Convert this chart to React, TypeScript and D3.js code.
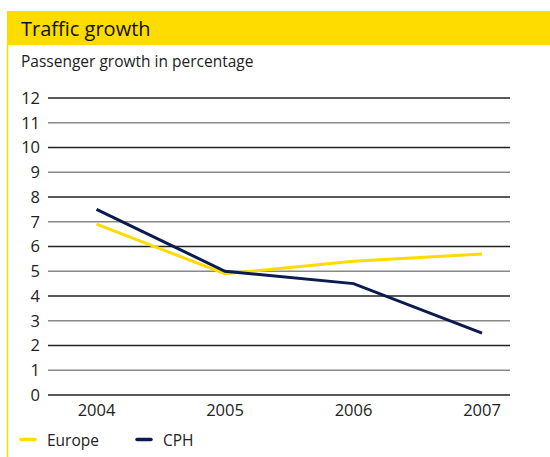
import React from "react";
import * as d3 from "d3";

const years = ["2004", "2005", "2006", "2007"];
const europe = [6.9, 4.9, 5.4, 5.7];
const cph = [7.5, 5.0, 4.5, 2.5];
const yTicks = [0, 1, 2, 3, 4, 5, 6, 7, 8, 9, 10, 11, 12];
const seriesNames = ["Europe", "CPH"];

const YELLOW = "#FFDC00";
const NAVY = "#0B1A4F";

export default function App() {
  const W = 550, H = 457;
  const y = d3.scaleLinear().domain([0, 12]).range([395, 98]);
  const x = d3.scalePoint<string>().domain(years).range([96.5, 482]);
  const line = d3.line<number>().x((_, i) => x(years[i])!).y(d => y(d));
  const font = "'Open Sans', 'Noto Sans', sans-serif";
  return (
    <svg width={W} height={H} style={{ position: "absolute", left: 0, top: 0 }} fontFamily={font}>
      <rect x={0} y={0} width={W} height={H} fill="#fff" />
      <rect x={7} y={11} width={543} height={34} fill={YELLOW} />
      <line x1={7.5} x2={7.5} y1={45} y2={457} stroke={YELLOW} strokeWidth={1.5} />
      <text x={21} y={36} fontSize={20} fill="#111">Traffic growth</text>
      <text x={21} y={67} fontSize={15.5} fill="#222">Passenger growth in percentage</text>
      {yTicks.map((t, i) => (
        <g key={t}>
          <line x1={48} x2={510} y1={y(t)} y2={y(t)} stroke={i % 2 === 0 ? "#222" : "#888"} strokeWidth={1.3} />
          <text x={40} y={y(t)} dy="0.36em" textAnchor="end" fontSize={16.5} fill="#222">{t}</text>
        </g>
      ))}
      {years.map(yr => (
        <text key={yr} x={x(yr)} y={416} textAnchor="middle" fontSize={16.5} fill="#222">{yr}</text>
      ))}
      <path d={line(europe)!} fill="none" stroke={YELLOW} strokeWidth={3} />
      <path d={line(cph)!} fill="none" stroke={NAVY} strokeWidth={3} />
      {seriesNames.map((n, i) => {
        const lx = [20, 136][i];
        return (
          <g key={n}>
            <line x1={lx + 1} x2={lx + 15} y1={439.5} y2={439.5} stroke={i === 0 ? YELLOW : NAVY} strokeWidth={3.5} strokeLinecap="round" />
            <text x={lx + 27} y={446} fontSize={15.5} fill="#222">{n}</text>
          </g>
        );
      })}
    </svg>
  );
}
